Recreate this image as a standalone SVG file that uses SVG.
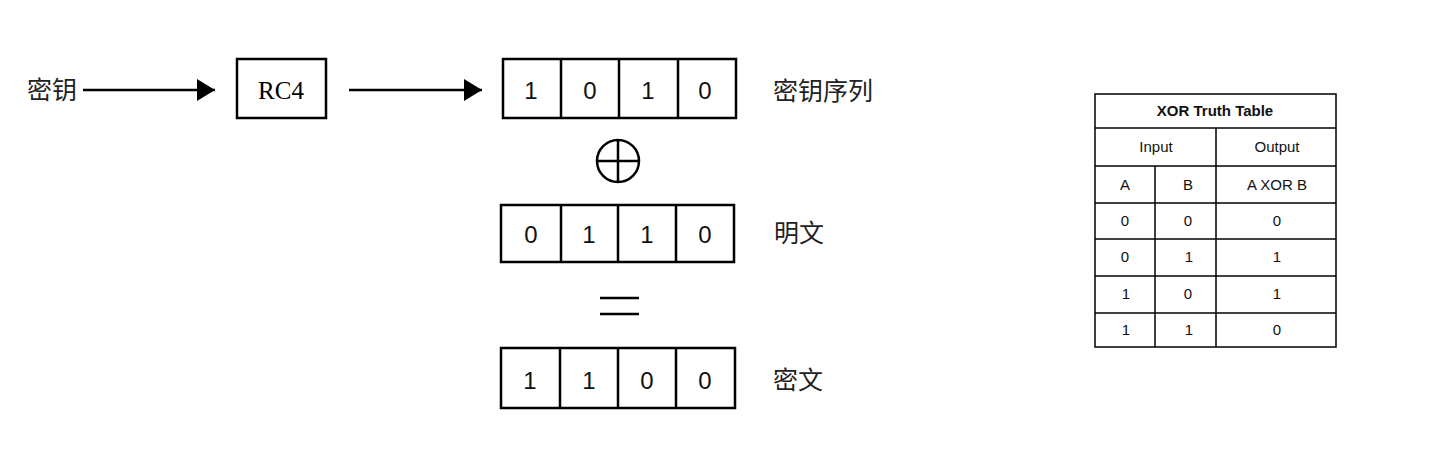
<svg xmlns="http://www.w3.org/2000/svg" width="1441" height="454" viewBox="0 0 1441 454">
<style>
.box{fill:#fff;stroke:#000;stroke-width:2.5}
.div{stroke:#000;stroke-width:2.5}
.dig{font-family:"Liberation Sans",Arial,sans-serif;font-size:24px;text-anchor:middle;fill:#111}
.cjk{font-family:"Noto Sans CJK SC","Noto Sans CJK JP",sans-serif;font-size:25px;fill:#222}
.tl{stroke:#000;stroke-width:1.5;fill:none}
.tt{font-family:"Liberation Sans",Arial,sans-serif;font-size:15px;text-anchor:middle;fill:#111}
.conn{stroke:#000;stroke-width:2.5;fill:none}
</style>
<defs>
<marker id="ah" markerWidth="18" markerHeight="22" refX="18" refY="11" orient="auto" markerUnits="userSpaceOnUse">
<path d="M0,0 L18,11 L0,22 Z" fill="#000"/>
</marker>
</defs>
<rect width="1441" height="454" fill="#fff"/>
<g id="connectors">
<line class="conn" x1="83" y1="90" x2="215" y2="90" marker-end="url(#ah)"/>
<line class="conn" x1="349" y1="90" x2="482" y2="90" marker-end="url(#ah)"/>
</g>
<g id="key-label">
<text class="cjk" x="27" y="99">密钥</text>
</g>
<g id="rc4">
<rect class="box" x="237" y="59" width="89" height="59"/>
<text x="281" y="99" font-family="Liberation Serif,'Times New Roman',serif" font-size="25" text-anchor="middle">RC4</text>
</g>
<g id="keystream">
<rect class="box" x="503" y="59" width="233" height="59"/>
<line class="div" x1="561" y1="59" x2="561" y2="118"/>
<line class="div" x1="619" y1="59" x2="619" y2="118"/>
<line class="div" x1="678" y1="59" x2="678" y2="118"/>
<text class="dig" x="531" y="99">1</text>
<text class="dig" x="590" y="99">0</text>
<text class="dig" x="648" y="99">1</text>
<text class="dig" x="705" y="99">0</text>
<text class="cjk" x="773" y="100">密钥序列</text>
</g>
<g id="xor">
<circle cx="618" cy="161" r="21" fill="none" stroke="#000" stroke-width="2.5"/>
<line class="div" x1="597" y1="161" x2="639" y2="161"/>
<line class="div" x1="618" y1="140" x2="618" y2="182"/>
</g>
<g id="plaintext">
<rect class="box" x="501" y="205" width="233" height="57"/>
<line class="div" x1="561" y1="205" x2="561" y2="262"/>
<line class="div" x1="618" y1="205" x2="618" y2="262"/>
<line class="div" x1="676" y1="205" x2="676" y2="262"/>
<text class="dig" x="531" y="243">0</text>
<text class="dig" x="589" y="243">1</text>
<text class="dig" x="647" y="243">1</text>
<text class="dig" x="705" y="243">0</text>
<text class="cjk" x="774" y="242">明文</text>
</g>
<g id="equals">
<line class="div" x1="600" y1="298" x2="639" y2="298"/>
<line class="div" x1="600" y1="314" x2="639" y2="314"/>
</g>
<g id="ciphertext">
<rect class="box" x="501" y="348" width="234" height="60"/>
<line class="div" x1="560" y1="348" x2="560" y2="408"/>
<line class="div" x1="618" y1="348" x2="618" y2="408"/>
<line class="div" x1="676" y1="348" x2="676" y2="408"/>
<text class="dig" x="530" y="389">1</text>
<text class="dig" x="589" y="389">1</text>
<text class="dig" x="647" y="389">0</text>
<text class="dig" x="705" y="389">0</text>
<text class="cjk" x="773" y="389">密文</text>
</g>
<g id="truth-table">
<rect class="tl" x="1095" y="94" width="241" height="253"/>
<line class="tl" x1="1095" y1="128" x2="1336" y2="128"/>
<line class="tl" x1="1095" y1="166" x2="1336" y2="166"/>
<line class="tl" x1="1095" y1="203" x2="1336" y2="203"/>
<line class="tl" x1="1095" y1="239" x2="1336" y2="239"/>
<line class="tl" x1="1095" y1="276" x2="1336" y2="276"/>
<line class="tl" x1="1095" y1="313" x2="1336" y2="313"/>
<line class="tl" x1="1216" y1="128" x2="1216" y2="347"/>
<line class="tl" x1="1155" y1="166" x2="1155" y2="347"/>
<text class="tt" x="1215" y="116" font-weight="bold">XOR Truth Table</text>
<text class="tt" x="1156" y="152">Input</text>
<text class="tt" x="1277" y="152">Output</text>
<text class="tt" x="1125" y="190">A</text>
<text class="tt" x="1188" y="190">B</text>
<text class="tt" x="1277" y="190">A XOR B</text>
<text class="tt" x="1125" y="226">0</text>
<text class="tt" x="1188" y="226">0</text>
<text class="tt" x="1277" y="226">0</text>
<text class="tt" x="1125" y="262">0</text>
<text class="tt" x="1189" y="262">1</text>
<text class="tt" x="1277" y="262">1</text>
<text class="tt" x="1126" y="299">1</text>
<text class="tt" x="1188" y="299">0</text>
<text class="tt" x="1277" y="299">1</text>
<text class="tt" x="1126" y="335">1</text>
<text class="tt" x="1189" y="335">1</text>
<text class="tt" x="1277" y="335">0</text>
</g>
</svg>
